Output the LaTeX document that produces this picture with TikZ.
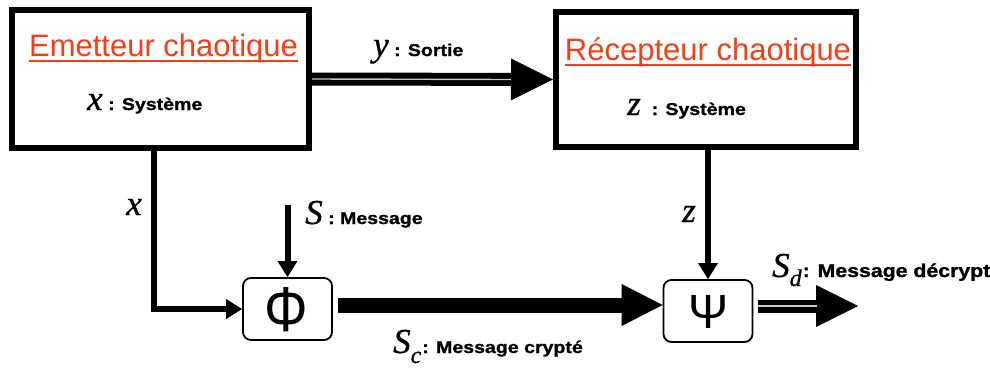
\documentclass[tikz,border=0pt]{standalone}
\usepackage{fontspec}
\setmainfont{Liberation Sans}
\newfontfamily\varfont{Liberation Serif Italic}[FakeBold=0.8]
\newfontfamily\symfont{Liberation Sans}
\newfontfamily\lblfont{Liberation Sans Bold}[FakeStretch=1.15, FakeBold=1.2]
\usetikzlibrary{arrows.meta}
\definecolor{titlered}{RGB}{250,60,20}
\newcommand\mv[1]{{\varfont\fontsize{35}{35}\selectfont #1}}
\newcommand\msub[1]{{\varfont\fontsize{24}{24}\selectfont #1}}
\tikzset{
  bigbox/.style={draw, line width=6pt, inner sep=0pt},
  opbox/.style={draw, line width=1.8pt, rounded corners=8pt, minimum width=89pt, minimum height=62pt, inner sep=0pt},
  titletext/.style={text=titlered, font=\fontsize{31}{31}\selectfont, inner sep=0pt, anchor=base},
  ul/.style={draw=titlered, line width=2.5pt},
  lbl/.style={font=\lblfont\fontsize{17}{17}\selectfont, inner sep=0pt, anchor=base west},
  vlbl/.style={font=\varfont\fontsize{35}{35}\selectfont, inner sep=0pt, anchor=base},
  symb/.style={font=\symfont\fontsize{48}{48}\selectfont, inner sep=0pt},
  thinarrow/.style={line width=6pt, -{Triangle[length=16pt,width=20pt,line width=0pt]}},
  fatarrow/.style={line width=13pt, -{Triangle[length=42pt,width=42pt,line width=0pt]}},
  thickarrow/.style={line width=15pt, -{Triangle[length=41pt,width=42pt,line width=0pt]}},
  gapline/.style={draw=gray!45, line width=1.4pt},
}
\begin{document}
\begin{tikzpicture}[x=1pt, y=-1pt]
\useasboundingbox (0,0) rectangle (990,367);
% boxes
\node[bigbox, minimum width=297pt, minimum height=138pt] (emit) at (160.5,79) {};
\node[bigbox, minimum width=300pt, minimum height=135pt] (recv) at (706,79.5) {};
\node[opbox] (phi) at (287.5,309) {};
\node[opbox] (psi) at (708,311) {};
\node[symb, font=\symfont\fontsize{52}{52}\selectfont] (phis) at (286.5,310) {\scalebox{1.05}[1.22]{Φ}};
\node[symb] (psis) at (709,312) {Ψ};
% titles
\node[titletext] (t1) at (163.5,56) {Emetteur chaotique};
\node[titletext] (t2) at (708,60) {Récepteur chaotique};
\draw[ul] ([yshift=-5pt]t1.base west) -- ([yshift=-5pt]t1.base east);
\draw[ul] ([yshift=-5pt]t2.base west) -- ([yshift=-5pt]t2.base east);
% labels
\node[lbl] (lx) at (87,110) {\mv{x} : Système};
\node[lbl] (lz) at (627,115) {\mv{z} \ : Système};
\node[lbl] (ly) at (373,56) {\mv{y} : Sortie};
\node[vlbl] (xl) at (134,215) {x};
\node[vlbl] (zl) at (689,222) {z};
\node[lbl] (ls) at (305,224) {\mv{S} : Message};
\node[lbl] (lsc) at (393,353) {\mv{S}\raisebox{-10pt}{\msub{c}}\kern1pt: Message crypté};
\node[lbl, font=\lblfont\fontsize{18.5}{18.5}\selectfont] (lsd) at (772,277) {\mv{S}\raisebox{-9pt}{\msub{d}}\kern1pt: Message décrypt};
% connector ends
\coordinate (sin) at (287.5,205);
\coordinate (out) at (858,306);
% connectors
\draw[fatarrow] (emit.east) -- (recv.west);
\draw[gapline] (emit.east) -- ([xshift=-42pt]recv.west);
\draw[thinarrow] ([xshift=-7pt]emit.south) |- (phi.west);
\draw[thinarrow] (sin) -- (phi.north);
\draw[thinarrow] (psi.north |- recv.south) -- (psi.north);
\draw[thickarrow, shorten <=5pt] ([yshift=4pt]phi.east) -- ([yshift=4pt]phi.east -| psi.west);
\draw[fatarrow, shorten <=5pt] (psi.east |- out) -- (out);
\draw[gapline, shorten <=5pt] (psi.east |- out) -- ([xshift=-41pt]out);
\end{tikzpicture}
\end{document}
